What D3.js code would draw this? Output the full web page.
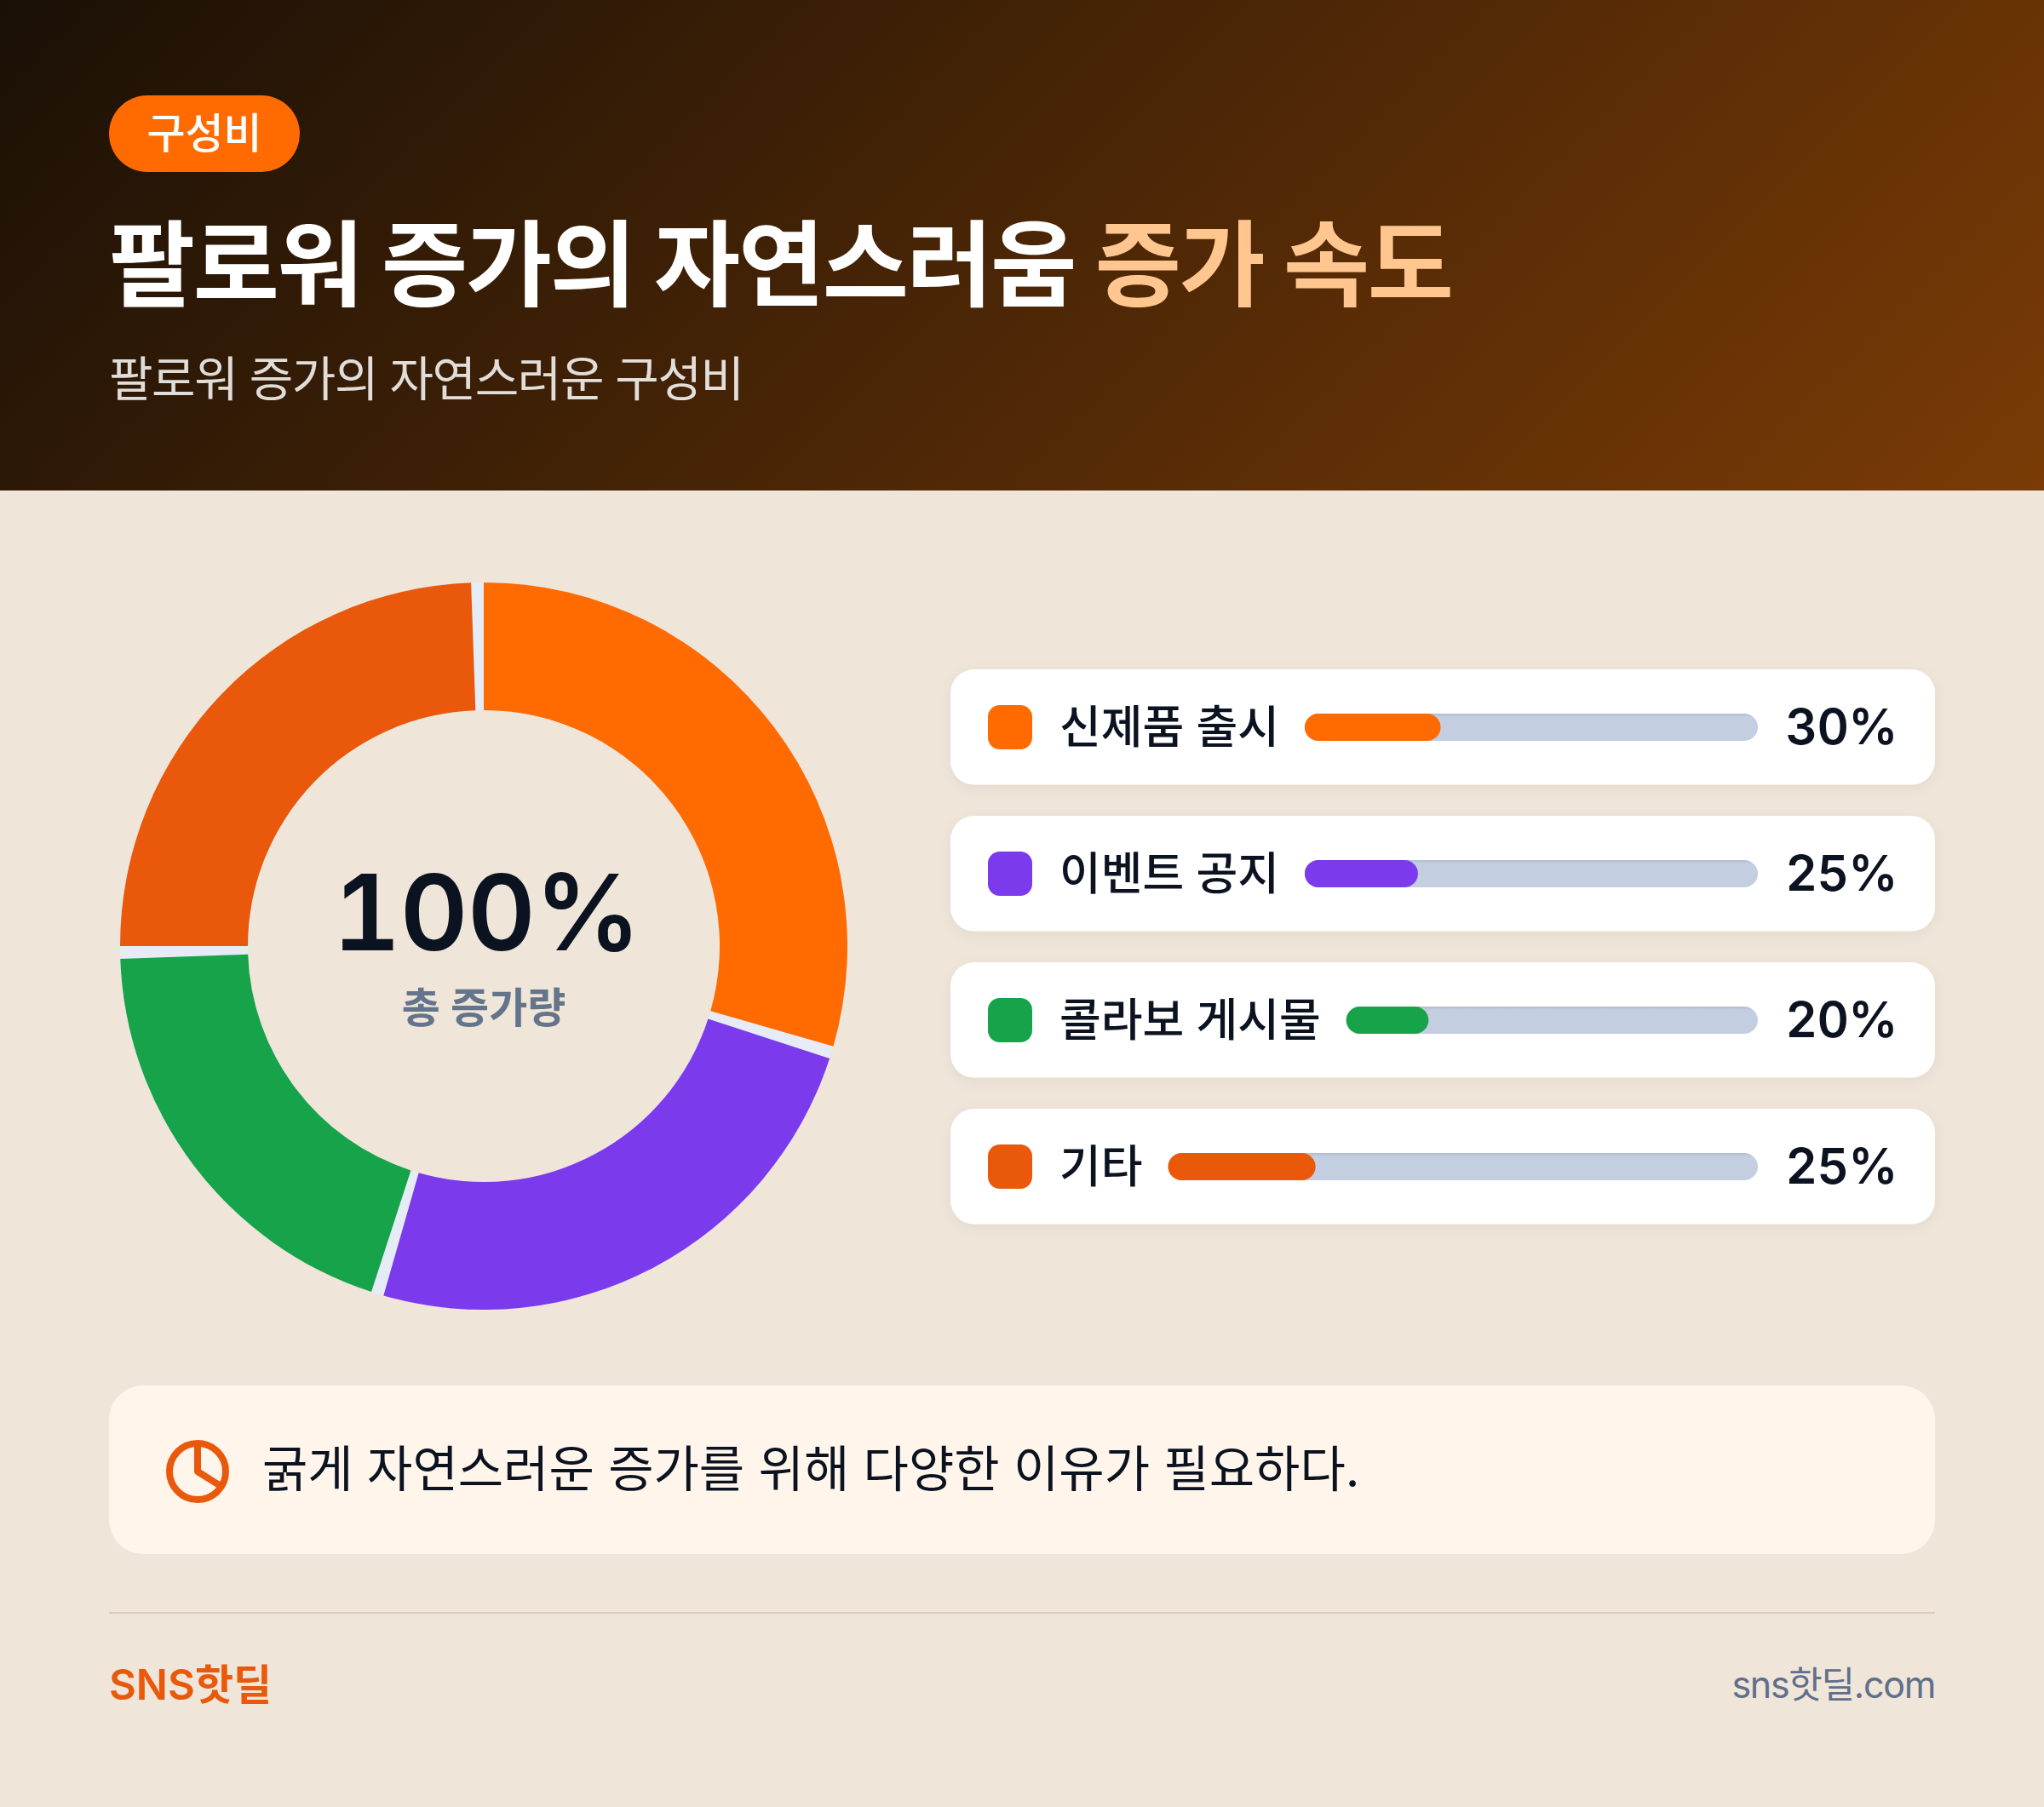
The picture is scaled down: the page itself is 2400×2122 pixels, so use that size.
<!DOCTYPE html>
<html lang="ko">
<head>
<meta charset="utf-8">
<title>구성비</title>
<script src="https://cdn.jsdelivr.net/npm/d3@7"></script>
<style>
  html, body { margin: 0; padding: 0; background: #efe5d9; }
  svg { display: block; }
  text { font-family: Inter, "Noto Sans CJK KR", sans-serif; font-optical-sizing: none; }
  .num { font-feature-settings: "tnum"; }
</style>
</head>
<body>
<svg id="chart" width="2400" height="2122"></svg>
<script>
const categories = ["신제품 출시", "이벤트 공지", "콜라보 게시물", "기타"];
const shares = [30, 25, 20, 25];
const colors = ["#ff6b00", "#7c3aed", "#16a34a", "#ea580c"];
const badgeText = "구성비";
const titleMain = "팔로워 증가의 자연스러움 ";
const titleAccent = "증가 속도";
const subtitleText = "팔로워 증가의 자연스러운 구성비";
const centerValue = "100%";
const centerLabel = "총 증가량";
const noteText = "굵게 자연스러운 증가를 위해 다양한 이유가 필요하다.";
const brandText = "SNS핫딜";
const siteText = "sns핫딜.com";

const W = 2400, H = 2122;
const ink = "#0b1220";
const svg = d3.select("#chart");
const defs = svg.append("defs");

// same corners as css linear-gradient(135deg) on a 2400x576 box
const grad = defs.append("linearGradient")
    .attr("id", "headGrad")
    .attr("gradientUnits", "userSpaceOnUse")
    .attr("x1", 456).attr("y1", -456)
    .attr("x2", 1944).attr("y2", 1032);
grad.append("stop").attr("offset", 0).attr("stop-color", "#1a1006");
grad.append("stop").attr("offset", 1).attr("stop-color", "#7a3b06");

// darker top edge on the bar tracks
const trackGrad = defs.append("linearGradient")
    .attr("id", "trackGrad")
    .attr("x1", 0).attr("y1", 0).attr("x2", 0).attr("y2", 1);
trackGrad.append("stop").attr("offset", 0).attr("stop-color", "#b0bccf");
trackGrad.append("stop").attr("offset", 0.12).attr("stop-color", "#c3cee0");
trackGrad.append("stop").attr("offset", 1).attr("stop-color", "#c3cee0");

const cardShadow = defs.append("filter").attr("id", "cardShadow")
    .attr("x", "-5%").attr("y", "-20%").attr("width", "110%").attr("height", "150%");
cardShadow.append("feDropShadow")
    .attr("dx", 0).attr("dy", 4).attr("stdDeviation", 8)
    .attr("flood-color", "#000").attr("flood-opacity", 0.05);

svg.append("rect").attr("width", W).attr("height", H).attr("fill", "#efe5d9");

// header
svg.append("rect").attr("width", W).attr("height", 576).attr("fill", "url(#headGrad)");
svg.append("rect").attr("x", 128).attr("y", 112).attr("width", 224).attr("height", 90)
    .attr("rx", 45).attr("fill", "#ff6b00");
svg.append("text").attr("x", 240).attr("y", 174).attr("text-anchor", "middle")
    .attr("font-size", 49).attr("font-weight", 500).attr("fill", "#fff").text(badgeText);

const title = svg.append("text").attr("x", 128).attr("y", 351)
    .attr("font-size", 110).attr("font-weight", 700).attr("letter-spacing", "-2.4px").attr("fill", "#fff");
title.append("tspan").text(titleMain);
title.append("tspan").attr("fill", "#ffc78f").text(titleAccent);

svg.append("text").attr("x", 128).attr("y", 465)
    .attr("font-size", 56).attr("letter-spacing", "-1.4px")
    .attr("fill", "#fff").attr("fill-opacity", 0.85).text(subtitleText);

// donut
const cx = 568, cy = 1111, rOuter = 427, rInner = 277;
const gapAngle = 2 * Math.PI / 180;
const donut = svg.append("g").attr("transform", `translate(${cx},${cy})`);
const arc = d3.arc().innerRadius(rInner).outerRadius(rOuter);

donut.append("path")
    .attr("d", arc({ startAngle: 0, endAngle: 2 * Math.PI }))
    .attr("fill", "#e6ecf5");

const pie = d3.pie().sort(null).value(d => d);
donut.selectAll("path.slice")
    .data(pie(shares))
    .join("path")
    .attr("class", "slice")
    .attr("d", d => arc({ startAngle: d.startAngle, endAngle: d.endAngle - gapAngle }))
    .attr("fill", (d, i) => colors[i]);

svg.append("text").attr("class", "num").attr("x", cx + 3).attr("y", 1116).attr("text-anchor", "middle")
    .attr("font-size", 124).attr("font-weight", 600).attr("letter-spacing", "-1px")
    .attr("fill", ink).text(centerValue);
svg.append("text").attr("x", cx).attr("y", 1201).attr("text-anchor", "middle")
    .attr("font-size", 49).attr("font-weight", 600).attr("fill", "#64748b").text(centerLabel);

// legend rows
const cardX = 1116, cardW = 1156, cardH = 135.6, cardPitch = 172, cardTop = 786;
const trackRight = 2064, trackH = 32;

const rows = svg.selectAll("g.row")
    .data(categories)
    .join("g")
    .attr("class", "row")
    .attr("transform", (d, i) => `translate(${cardX},${cardTop + i * cardPitch})`);

rows.append("rect").attr("width", cardW).attr("height", cardH).attr("rx", 28)
    .attr("fill", "#fff").attr("filter", "url(#cardShadow)");
rows.append("rect").attr("x", 44).attr("y", 42).attr("width", 52).attr("height", 52).attr("rx", 14)
    .attr("fill", (d, i) => colors[i]);
rows.append("text").attr("x", 128).attr("y", 87)
    .attr("font-size", 53).attr("font-weight", 500).attr("fill", ink)
    .text(d => d);
rows.append("text").attr("class", "num").attr("x", cardW - 44).attr("y", 88).attr("text-anchor", "end")
    .attr("font-size", 58).attr("font-weight", 600).attr("letter-spacing", "-0.6px").attr("fill", ink)
    .text((d, i) => shares[i] + "%");

rows.each(function (d, i) {
    const row = d3.select(this);
    const labelEnd = row.select("text").node().getComputedTextLength() + 128;
    const x0 = labelEnd + 30;
    const x1 = trackRight - cardX;
    const scale = d3.scaleLinear().domain([0, 100]).range([0, x1 - x0]);
    row.append("rect").attr("x", x0).attr("y", 52).attr("width", x1 - x0).attr("height", trackH)
        .attr("rx", trackH / 2).attr("fill", "url(#trackGrad)");
    row.append("rect").attr("x", x0).attr("y", 52).attr("width", scale(shares[i])).attr("height", trackH)
        .attr("rx", trackH / 2).attr("fill", colors[i]);
});

// note box
svg.append("rect").attr("x", 128).attr("y", 1627).attr("width", 2144).attr("height", 198)
    .attr("rx", 40).attr("fill", "#fff5eb");
const icon = svg.append("g").attr("transform", "translate(232,1728)")
    .attr("fill", "none").attr("stroke", "#e8590c").attr("stroke-width", 8);
icon.append("circle").attr("r", 33);
icon.append("path").attr("d", "M0,-33V0L27,17").attr("stroke-linejoin", "round");
svg.append("text").attr("x", 308).attr("y", 1746)
    .attr("font-size", 58).attr("fill", ink).text(noteText);

// footer
svg.append("line").attr("x1", 128).attr("x2", 2272).attr("y1", 1894).attr("y2", 1894)
    .attr("stroke", "#dccbb9").attr("stroke-width", 2);
svg.append("text").attr("x", 128).attr("y", 1996)
    .attr("font-size", 49).attr("font-weight", 600).attr("fill", "#e8590c").text(brandText);
svg.append("text").attr("x", 2272).attr("y", 1994).attr("text-anchor", "end")
    .attr("font-size", 43).attr("letter-spacing", "-1.3px").attr("fill", "#5f6f8c").text(siteText);
</script>
</body>
</html>
